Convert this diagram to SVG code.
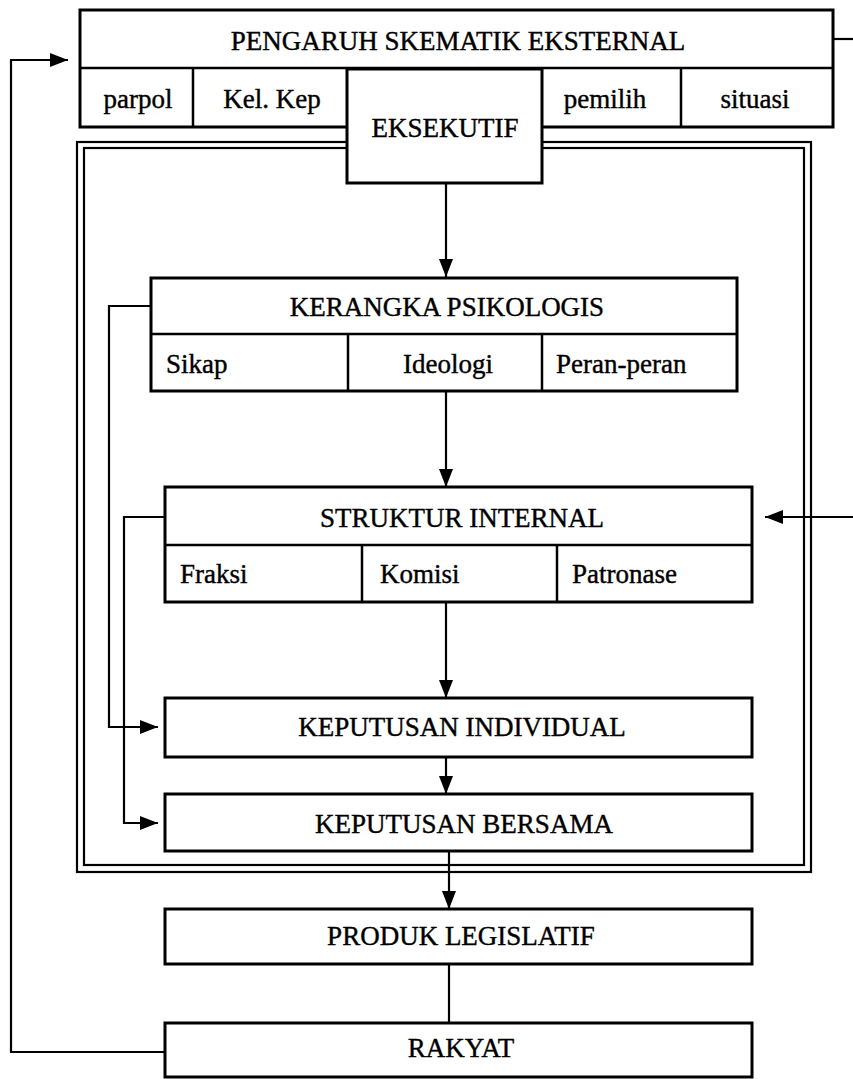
<svg xmlns="http://www.w3.org/2000/svg" width="853" height="1079" viewBox="0 0 853 1079">
<style>
.box{fill:#fff;stroke:#000;stroke-width:3}
.div{stroke:#000;stroke-width:2.5;fill:none}
.frame{fill:none;stroke:#000;stroke-width:2.2}
.con{fill:none;stroke:#000;stroke-width:2.2}
text{font-family:"Liberation Serif","Times New Roman",serif;font-size:27px;fill:#000;stroke:#000;stroke-width:0.4}
.c{text-anchor:middle}
</style>
<defs>
<marker id="arr" markerUnits="userSpaceOnUse" markerWidth="18" markerHeight="14" refX="18" refY="7" orient="auto">
<path d="M0,0 L18,7 L0,14 z" fill="#000"/>
</marker>
</defs>
<rect width="853" height="1079" fill="#fff"/>

<g id="frame">
<rect class="frame" x="77" y="142" width="734" height="730"/>
<rect class="frame" x="84" y="148" width="720" height="717"/>
</g>

<g id="pengaruh">
<rect class="box" x="80" y="10" width="753" height="117"/>
<line class="div" x1="80" y1="68" x2="833" y2="68"/>
<line class="div" x1="193" y1="68" x2="193" y2="127"/>
<line class="div" x1="681" y1="68" x2="681" y2="127"/>
<text class="c" x="458" y="50">PENGARUH SKEMATIK EKSTERNAL</text>
<text class="c" x="138" y="108">parpol</text>
<text class="c" x="272" y="108">Kel. Kep</text>
<text class="c" x="605" y="108">pemilih</text>
<text class="c" x="755" y="108">situasi</text>
</g>

<g id="eksekutif">
<rect class="box" x="347" y="69" width="195" height="114"/>
<text class="c" x="445" y="137">EKSEKUTIF</text>
</g>

<g id="kerangka">
<rect class="box" x="151" y="278" width="586" height="113"/>
<line class="div" x1="151" y1="334" x2="737" y2="334"/>
<line class="div" x1="348" y1="334" x2="348" y2="391"/>
<line class="div" x1="542" y1="334" x2="542" y2="391"/>
<text class="c" x="447" y="316">KERANGKA PSIKOLOGIS</text>
<text x="166" y="373">Sikap</text>
<text class="c" x="448" y="373">Ideologi</text>
<text x="556" y="373">Peran-peran</text>
</g>

<g id="struktur">
<rect class="box" x="165" y="487" width="587" height="115"/>
<line class="div" x1="165" y1="545" x2="752" y2="545"/>
<line class="div" x1="362" y1="545" x2="362" y2="602"/>
<line class="div" x1="557" y1="545" x2="557" y2="602"/>
<text class="c" x="462" y="527">STRUKTUR INTERNAL</text>
<text x="180" y="583">Fraksi</text>
<text x="380" y="583">Komisi</text>
<text x="572" y="583">Patronase</text>
</g>

<g id="kep-individual">
<rect class="box" x="165" y="698" width="587" height="59"/>
<text class="c" x="462" y="736">KEPUTUSAN INDIVIDUAL</text>
</g>

<g id="kep-bersama">
<rect class="box" x="165" y="794" width="587" height="57"/>
<text class="c" x="464" y="833">KEPUTUSAN BERSAMA</text>
</g>

<g id="produk">
<rect class="box" x="165" y="909" width="587" height="55"/>
<text class="c" x="461" y="945">PRODUK LEGISLATIF</text>
</g>

<g id="rakyat">
<rect class="box" x="165" y="1023" width="587" height="54"/>
<text class="c" x="461" y="1057">RAKYAT</text>
</g>

<g id="connectors">
<line class="con" x1="446" y1="183" x2="446" y2="277" marker-end="url(#arr)"/>
<line class="con" x1="446" y1="391" x2="446" y2="487" marker-end="url(#arr)"/>
<line class="con" x1="446" y1="602" x2="446" y2="698" marker-end="url(#arr)"/>
<line class="con" x1="446" y1="757" x2="446" y2="794" marker-end="url(#arr)"/>
<line class="con" x1="449" y1="851" x2="449" y2="909" marker-end="url(#arr)"/>
<line class="con" x1="449" y1="964" x2="449" y2="1023"/>
<path class="con" d="M165,1052 H11 V60 H68" marker-end="url(#arr)"/>
<path class="con" d="M833,39 H853"/>
<path class="con" d="M853,517 H765" marker-end="url(#arr)"/>
<path class="con" d="M151,306 H109 V727 H158" marker-end="url(#arr)"/>
<path class="con" d="M165,517 H124 V823 H158" marker-end="url(#arr)"/>
</g>
</svg>
